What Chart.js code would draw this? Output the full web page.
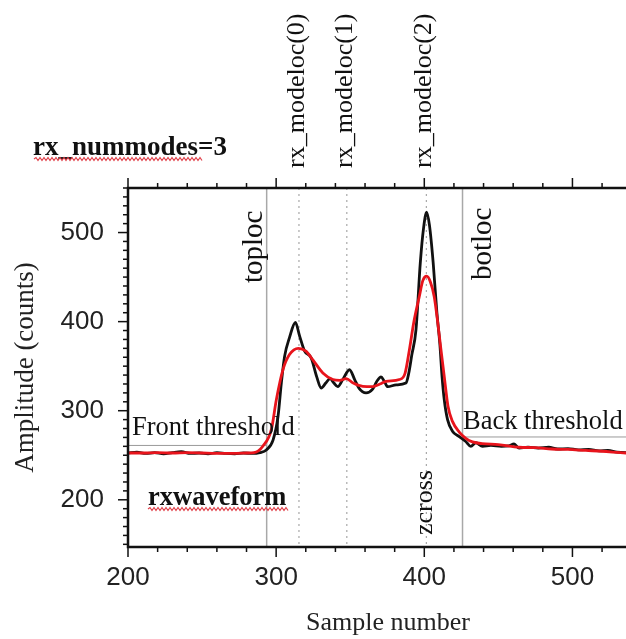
<!DOCTYPE html>
<html>
<head>
<meta charset="utf-8">
<script src="https://cdn.jsdelivr.net/npm/chart.js@4.4.0/dist/chart.umd.min.js"></script>
<style>
  html, body { margin: 0; padding: 0; background: #fff; overflow: hidden; width: 626px; height: 639px; }
  /* the plot runs past the right edge of the picture, so the canvas is a bit wider than the window */
  #wrap { width: 648px; height: 639px; position: relative; }
</style>
</head>
<body>
<div id="wrap"><canvas id="myChart"></canvas></div>
<script>
// received waveform (black) and fitted model (red)
const sampleBlack = [200, 206, 212, 218, 224, 230, 236, 242, 248, 254, 260, 266, 272, 278, 284, 289,
  293.4, 297.9, 301.3, 303.5, 305.7, 309, 313, 315.8, 319.2, 323.7, 327.4, 330.4, 333.5, 336.4, 339,
  341.6, 345, 349.5, 353, 356, 360.7, 365, 368, 370.8, 373, 375.3, 381, 387.6, 389.5, 391.5, 394.4,
  397.3, 399.5, 401.6, 403.5, 406, 408.5, 410.5, 412, 413.5, 415.7, 419, 423.6, 428, 431.4, 434.8,
  439.3, 445, 452, 457, 460.6, 464, 470, 477, 484, 490, 497, 504, 511, 518, 524, 530, 536, 544, 551];
const countsBlack = [252.5, 253.5, 252, 253, 251.5, 253, 254, 252, 252.5, 251.5, 253, 252, 251.5, 252.5, 252, 253,
  256, 267, 294, 331, 361, 382, 399, 384, 367, 359, 338, 325.5, 331, 336, 331,
  327, 335, 346, 335, 325, 320, 324, 333, 338, 333, 327, 329, 331, 342, 362, 391,
  466, 505, 523, 508, 466, 410, 375, 338, 312, 290, 277, 271, 265.5, 260, 264,
  260, 261, 260, 260.5, 262.6, 258, 259, 258, 259, 257, 257.5, 256, 256.5, 255, 255.5, 253.5, 253, 253, 252.5];

const sampleRed = [200, 210, 220, 230, 240, 250, 260, 270, 280, 285, 288, 291, 296.8, 300.1, 304.6, 309,
  315, 320.3, 324.8, 331.5, 338.3, 343, 347.3, 352, 358.5, 365.2, 370, 374.2, 383.2, 387, 389.9,
  393, 396.6, 399, 401.6, 404, 406.7, 409, 411, 413.5, 416, 419, 423.6, 428, 432.5, 439, 450,
  464, 475, 486, 497, 509, 520, 536, 551];
const countsRed = [252.5, 252.5, 253, 252.5, 253, 252.5, 252, 252, 252.5, 253, 255, 260, 279, 312, 346, 363,
  370, 366.6, 357, 342.4, 335, 334, 336, 331, 327.3, 327, 330, 333, 335, 342, 368,
  400, 428, 446, 451, 445, 428, 400, 372, 338, 305, 288, 276, 269, 265, 263, 262,
  259, 258.5, 257, 256.5, 255.4, 254.5, 252.5, 252];

const xTickLabels = [200, 300, 400, 500];
const yTickLabels = [200, 300, 400, 500];

const topLoc = 293.6;
const botLoc = 425.8;
const modeLocs = [315.4, 347.7, 401.4];
const modeNames = ['rx_modeloc(0)', 'rx_modeloc(1)', 'rx_modeloc(2)'];
const zCross = 401.4;
const frontThreshold = 261;
const backThreshold = 270.5;
const numModes = 3;

const serif = '"Liberation Serif", "Times New Roman", serif';
const sans = '"Liberation Sans", Arial, sans-serif';

function toPoints(xs, ys) {
  return xs.map((v, i) => ({x: v, y: ys[i]}));
}

function vText(ctx, text, x, y) {
  ctx.save();
  ctx.translate(x, y);
  ctx.rotate(-Math.PI / 2);
  ctx.fillText(text, 0, 0);
  ctx.restore();
}

function squiggle(ctx, x0, x1, y) {
  ctx.save();
  ctx.strokeStyle = '#e0404a';
  ctx.lineWidth = 1.2;
  ctx.beginPath();
  let up = true;
  ctx.moveTo(x0, y);
  for (let px = x0 + 2; px <= x1; px += 2) {
    ctx.lineTo(px, up ? y - 1.5 : y + 1.5);
    up = !up;
  }
  ctx.stroke();
  ctx.restore();
}

const waveDecor = {
  id: 'waveDecor',
  beforeDatasetsDraw(chart) {
    const {ctx, chartArea: a, scales: {x, y}} = chart;
    ctx.save();
    ctx.strokeStyle = '#a8a8a8';
    ctx.lineWidth = 1.5;
    [topLoc, botLoc].forEach(v => {
      const px = x.getPixelForValue(v);
      ctx.beginPath(); ctx.moveTo(px, a.top); ctx.lineTo(px, a.bottom); ctx.stroke();
    });
    ctx.setLineDash([2, 4]);
    ctx.lineWidth = 1.2;
    modeLocs.forEach(v => {
      const px = x.getPixelForValue(v);
      ctx.beginPath(); ctx.moveTo(px, a.top); ctx.lineTo(px, a.bottom); ctx.stroke();
    });
    ctx.setLineDash([]);
    ctx.strokeStyle = '#9a9a9a';
    ctx.lineWidth = 1;
    let py = y.getPixelForValue(frontThreshold);
    ctx.beginPath(); ctx.moveTo(a.left, py); ctx.lineTo(x.getPixelForValue(topLoc), py); ctx.stroke();
    py = y.getPixelForValue(backThreshold);
    ctx.beginPath(); ctx.moveTo(x.getPixelForValue(botLoc), py); ctx.lineTo(a.right, py); ctx.stroke();
    ctx.restore();
  },
  afterDraw(chart) {
    const {ctx, chartArea: a, scales: {x, y}} = chart;
    ctx.save();
    // frame (right side falls outside the picture)
    ctx.strokeStyle = '#111';
    ctx.lineWidth = 2.5;
    ctx.beginPath();
    ctx.moveTo(a.right, a.top); ctx.lineTo(a.left, a.top);
    ctx.lineTo(a.left, a.bottom); ctx.lineTo(a.right, a.bottom);
    ctx.stroke();
    // ticks
    ctx.lineWidth = 1.5;
    for (let v = 200; v <= x.max; v += 20) {
      const px = x.getPixelForValue(v);
      const len = v % 100 === 0 ? 10 : 5;
      ctx.beginPath();
      ctx.moveTo(px, a.top); ctx.lineTo(px, a.top - len);
      ctx.moveTo(px, a.bottom); ctx.lineTo(px, a.bottom + len);
      ctx.stroke();
    }
    for (let v = 150; v <= y.max; v += 10) {
      const py = y.getPixelForValue(v);
      const len = v % 100 === 0 ? 10 : 5;
      ctx.beginPath(); ctx.moveTo(a.left, py); ctx.lineTo(a.left - len, py); ctx.stroke();
    }

    ctx.fillStyle = '#111';
    ctx.textBaseline = 'alphabetic';
    ctx.textAlign = 'left';
    // mode location labels above the frame
    ctx.font = '26px ' + serif;
    modeLocs.forEach((v, i) => vText(ctx, modeNames[i], x.getPixelForValue(v) + 5, 168));
    // loc labels
    ctx.font = '29px ' + serif;
    vText(ctx, 'toploc', x.getPixelForValue(topLoc) - 5, 283);
    vText(ctx, 'botloc', x.getPixelForValue(botLoc) + 28, 280);
    ctx.font = '26px ' + serif;
    vText(ctx, 'zcross', x.getPixelForValue(zCross) + 6, 535);
    // thresholds
    ctx.font = '26.5px ' + serif;
    ctx.fillText('Front threshold', 132, 435);
    ctx.fillText('Back threshold', 463, 429);
    // bold labels
    ctx.font = 'bold 27px ' + serif;
    ctx.fillText('rx_nummodes=' + numModes, 33, 155);
    ctx.font = 'bold 26.5px ' + serif;
    ctx.fillText('rxwaveform', 148, 505);
    ctx.restore();
    squiggle(ctx, 34, 202, 159);
    squiggle(ctx, 148, 288, 509);
  }
};

const data = {
  datasets: [{
    label: 'model',
    data: toPoints(sampleRed, countsRed),
    borderColor: 'rgb(232, 20, 28)',
    borderWidth: 2.8,
    pointRadius: 0,
    cubicInterpolationMode: 'monotone',
    order: 1
  }, {
    label: 'rxwaveform',
    data: toPoints(sampleBlack, countsBlack),
    borderColor: '#111',
    borderWidth: 2.8,
    pointRadius: 0,
    cubicInterpolationMode: 'monotone',
    order: 2
  }]
};

const config = {
  type: 'line',
  data: data,
  plugins: [waveDecor],
  options: {
    responsive: true,
    maintainAspectRatio: false,
    animation: false,
    layout: { padding: { top: 188, left: 0, right: 0, bottom: 0 } },
    plugins: { legend: { display: false }, tooltip: { enabled: false } },
    scales: {
      x: {
        type: 'linear',
        min: 200,
        max: 551,
        grid: { display: false, drawTicks: false },
        border: { display: false },
        afterBuildTicks: s => { s.ticks = xTickLabels.map(v => ({value: v})); },
        ticks: {
          padding: 15,
          maxRotation: 0,
          autoSkip: false,
          color: '#222',
          font: { family: sans, size: 26 },
          callback: v => String(v)
        },
        title: {
          display: true,
          text: 'Sample number',
          color: '#222',
          font: { family: serif, size: 26 },
          padding: { top: 0, bottom: 0 }
        },
        afterFit: s => { s.height = 92; }
      },
      y: {
        min: 147,
        max: 550,
        grid: { display: false, drawTicks: false },
        border: { display: false },
        afterBuildTicks: s => { s.ticks = yTickLabels.map(v => ({value: v})); },
        ticks: {
          padding: 24,
          autoSkip: false,
          color: '#222',
          font: { family: sans, size: 26 },
          callback: v => String(v)
        },
        title: {
          display: true,
          text: 'Amplitude (counts)',
          color: '#222',
          font: { family: serif, size: 27 },
          padding: { top: 10, bottom: 0 }
        },
        afterFit: s => { s.width = 128; }
      }
    }
  }
};

const myChart = new Chart(document.getElementById('myChart'), config);
</script>
</body>
</html>
